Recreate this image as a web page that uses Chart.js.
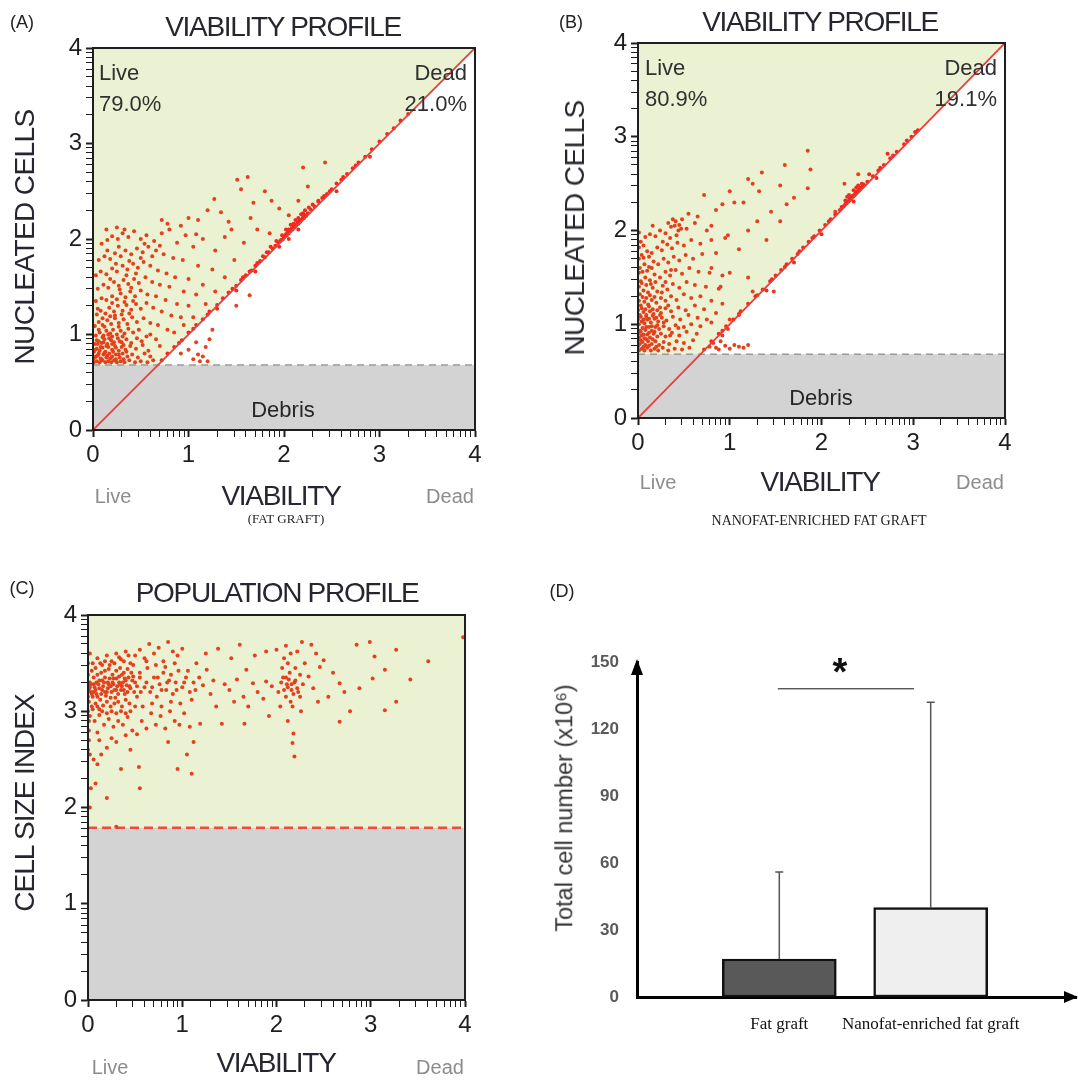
<!DOCTYPE html>
<html>
<head>
<meta charset="utf-8">
<script src="https://cdn.jsdelivr.net/npm/chart.js@4.4.1/dist/chart.umd.min.js"></script>
<style>
  body { margin: 0; width: 1078px; height: 1080px; position: relative; background: #fff; overflow: hidden; font-family: "Liberation Sans", Arial, sans-serif; }
  canvas { position: absolute; }
  .t { position: absolute; white-space: nowrap; line-height: 1; color: #262626; }
</style>
</head>
<body>
<canvas id="cA" width="540" height="540" style="left:0;top:0"></canvas>
<canvas id="cB" width="538" height="540" style="left:540px;top:0"></canvas>
<canvas id="cC" width="540" height="540" style="left:0;top:540px"></canvas>
<canvas id="cD" width="538" height="540" style="left:540px;top:540px"></canvas>
<script>
// ---------- data ----------
const flowTicks = [0, 1, 2, 3, 4];
const debrisGate = 0.68;      // nucleated-cells gate (A, B)
const sizeGate = 1.79;        // cell-size gate (C)

// (A) fat graft: nucleated cells vs viability
const cellsA = [
  [0.01,0.71],[0.04,0.72],[0.07,0.71],[0.1,0.73],[0.13,0.71],[0.16,0.72],[0.19,0.71],[0.22,0.73],[0.25,0.71],[0.29,0.72],[0.33,0.71],[0.38,0.73],[0.44,0.71],[0.5,0.72],[0.57,0.71],[0.63,0.73],
  [0.02,0.76],[0.05,0.78],[0.08,0.75],[0.11,0.79],[0.14,0.76],[0.17,0.8],[0.2,0.77],[0.24,0.79],[0.28,0.76],[0.31,0.8],[0.36,0.77],[0.41,0.79],[0.47,0.76],[0.54,0.8],[0.6,0.77],
  [0.01,0.82],[0.04,0.85],[0.07,0.83],[0.1,0.86],[0.13,0.82],[0.16,0.87],[0.2,0.84],[0.23,0.88],[0.27,0.83],[0.3,0.87],[0.34,0.84],[0.39,0.88],[0.45,0.85],[0.52,0.89],[0.58,0.83],
  [0.02,0.9],[0.06,0.93],[0.09,0.91],[0.12,0.95],[0.15,0.9],[0.19,0.94],[0.22,0.92],[0.26,0.96],[0.3,0.92],[0.35,0.95],[0.4,0.91],[0.46,0.96],[0.51,0.93],[0.56,0.98],
  [0.03,0.99],[0.07,1.02],[0.11,0.99],[0.14,1.04],[0.18,1.01],[0.21,1.05],[0.25,1.0],[0.29,1.04],[0.33,1.01],[0.37,1.06],[0.42,1.02],[0.48,1.05],[0.6,1.0],[0.66,0.95],[0.7,0.88],
  [0.0,0.74],[0.03,0.77],[0.06,0.8],[0.09,0.74],[0.12,0.81],[0.15,0.78],[0.18,0.75],[0.21,0.82],[0.24,0.74],[0.27,0.79],[0.32,0.74],[0.35,0.82],[0.02,0.84],[0.05,0.9],
  [0.08,0.87],[0.11,0.92],[0.14,0.88],[0.17,0.96],[0.2,0.9],[0.24,0.86],[0.28,0.93],[0.32,0.89],[0.04,0.94],[0.1,0.97],[0.16,1.0],[0.2,0.98],[0.27,1.08],[0.31,0.98],
  [0.02,1.09],[0.06,1.13],[0.1,1.1],[0.15,1.15],[0.19,1.11],[0.23,1.17],[0.27,1.12],[0.32,1.16],[0.36,1.11],[0.41,1.18],[0.46,1.13],[0.53,1.17],[0.6,1.12],[0.68,1.1],[0.78,1.05],[0.85,1.02],
  [0.06,1.05],[0.12,1.08],[0.23,1.2],[0.3,1.21],[0.38,1.22],[0.18,1.19],[0.1,1.17],[0.05,1.27],[0.2,1.33],[0.33,1.34],[0.42,1.35],[0.28,1.47],[0.4,1.49],[0.18,1.58],
  [0.04,1.21],[0.08,1.25],[0.13,1.22],[0.17,1.28],[0.22,1.24],[0.26,1.3],[0.31,1.25],[0.35,1.31],[0.4,1.26],[0.45,1.32],[0.5,1.27],[0.56,1.33],[0.63,1.28],[0.72,1.24],[0.82,1.2],[0.92,1.18],
  [0.03,1.35],[0.09,1.38],[0.14,1.36],[0.2,1.4],[0.25,1.37],[0.29,1.43],[0.34,1.39],[0.39,1.45],[0.44,1.4],[0.5,1.46],[0.57,1.42],[0.66,1.4],[0.76,1.36],[0.88,1.32],[1.0,1.3],
  [0.05,1.48],[0.11,1.52],[0.16,1.49],[0.22,1.55],[0.27,1.51],[0.32,1.57],[0.37,1.53],[0.43,1.58],[0.48,1.54],[0.55,1.6],[0.62,1.55],[0.7,1.52],[0.8,1.5],[0.95,1.45],[1.08,1.42],
  [0.03,1.62],[0.08,1.66],[0.14,1.63],[0.2,1.69],[0.25,1.66],[0.31,1.72],[0.36,1.68],[0.42,1.74],[0.47,1.7],[0.53,1.76],[0.6,1.72],[0.68,1.67],[0.77,1.64],[0.86,1.6],[1.0,1.58],[1.15,1.52],
  [0.35,1.62],[0.45,1.64],[0.24,1.74],[0.38,1.77],[0.5,1.8],[0.62,1.82],[0.15,1.88],[0.27,1.92],[0.54,1.95],[0.7,1.93],
  [0.06,1.78],[0.12,1.82],[0.18,1.79],[0.23,1.85],[0.29,1.82],[0.34,1.88],[0.4,1.84],[0.46,1.9],[0.52,1.86],[0.58,1.92],[0.66,1.88],[0.74,1.84],[0.84,1.8],[0.94,1.78],[1.1,1.72],[1.25,1.68],
  [0.09,1.95],[0.15,1.99],[0.2,2.03],[0.26,2.0],[0.31,2.06],[0.37,2.02],[0.43,2.08],[0.5,2.0],[0.56,2.04],[0.64,1.98],[0.72,2.06],[0.8,2.1],[0.88,1.96],[0.97,2.04],[1.05,1.92],[1.15,2.0],[1.28,1.88],
  [0.14,2.1],[0.25,2.12],[0.33,2.1],[0.72,2.2],[0.78,2.16],[0.92,2.14],[1.0,2.22],[1.1,2.2],[1.08,2.05],
  [1.27,2.42],[1.34,2.28],[1.51,2.62],[1.62,2.65],[1.55,2.52],[1.8,2.5],[1.87,2.4],[2.2,2.75],[2.43,2.8],[2.25,2.55],[2.15,2.4],[1.95,2.32],[1.65,2.22],[1.72,2.1],[1.45,2.1],[1.38,2.02],
  [1.58,1.96],[1.85,2.06],[1.2,2.3],[1.48,1.78],[1.38,1.6],[1.28,1.45],[1.18,1.32],[1.05,1.18],[0.95,1.1],[1.42,2.18],[1.68,2.38],[2.05,2.25],
  [1.05,0.74],[1.1,0.79],[1.12,0.72],[1.18,0.87],[1.22,0.95],[1.25,1.05],[1.08,0.92],[1.0,0.84],[0.92,0.8],[1.15,0.77],[1.2,0.72],[1.64,1.41],[1.5,1.3]
];
const deadA = [
  [0.72,0.73],[0.78,0.8],[0.85,0.87],[0.93,0.94],[1.0,1.02],[1.08,1.1],[1.15,1.16],[1.22,1.24],[1.3,1.31],[1.36,1.38],[1.42,1.44],[1.5,1.51],[1.55,1.57],[1.6,1.62],
  [1.66,1.67],[1.7,1.72],[1.75,1.77],[1.8,1.81],[1.84,1.86],[1.88,1.9],[1.91,1.93],[1.94,1.96],[1.97,1.99],[2.0,2.02],[2.02,2.05],[2.04,2.07],[2.06,2.08],[2.08,2.11],
  [2.1,2.13],[2.12,2.14],[2.14,2.17],[2.16,2.19],[2.18,2.2],[2.2,2.23],[2.22,2.25],[2.25,2.27],[2.28,2.31],[2.32,2.34],[2.36,2.39],[2.4,2.43],[2.45,2.47],[2.5,2.52],
  [2.55,2.58],[2.6,2.62],[2.66,2.68],[2.72,2.74],[2.78,2.8],[2.85,2.86],[2.92,2.94],[3.0,3.02],[3.08,3.1],[3.15,3.16],[3.22,3.24],[3.3,3.31],
  [1.95,1.92],[2.05,2.0],[1.5,1.46],[1.7,1.66],[2.55,2.5],[2.9,2.86],[1.3,1.27],[2.02,2.1],[2.12,2.2],[2.15,2.1],[2.07,2.15],[2.18,2.26],
  [1.96,1.98],[1.99,2.0],[2.01,2.03],[2.03,2.04],[2.05,2.06],[2.07,2.09],[2.09,2.1],[2.11,2.12],[2.13,2.15],[2.15,2.16],[2.17,2.18],[2.19,2.21],[2.21,2.22],[2.23,2.24],
  [2.05,2.1],[2.1,2.16],[2.15,2.22],[2.2,2.27],[1.98,2.04],[1.92,1.98],[2.22,2.3],[2.26,2.33],[2.3,2.36],[1.86,1.92],[1.82,1.86],[1.78,1.82],[1.72,1.75],[1.64,1.66],
  [1.57,1.6],[1.46,1.48],[1.2,1.21],[1.05,1.06],[0.9,0.91],[2.48,2.5],[2.62,2.65],[2.75,2.77],[2.42,2.45],[2.36,2.4]
];

// (B) nanofat-enriched fat graft
const cellsB = [
  [0.01,0.72],[0.04,0.74],[0.07,0.72],[0.1,0.75],[0.14,0.72],[0.18,0.74],[0.22,0.72],[0.27,0.75],[0.33,0.72],[0.4,0.74],[0.48,0.73],[0.56,0.75],
  [0.02,0.79],[0.05,0.81],[0.08,0.78],[0.11,0.82],[0.15,0.79],[0.19,0.82],[0.23,0.78],[0.28,0.81],[0.34,0.79],[0.42,0.82],[0.5,0.8],[0.6,0.83],
  [0.01,0.86],[0.04,0.88],[0.07,0.85],[0.1,0.89],[0.13,0.86],[0.17,0.9],[0.21,0.87],[0.25,0.9],[0.3,0.87],[0.37,0.91],[0.45,0.88],[0.53,0.92],[0.64,0.9],
  [0.02,0.93],[0.05,0.96],[0.08,0.94],[0.12,0.97],[0.15,0.93],[0.19,0.97],[0.23,0.95],[0.28,0.98],[0.34,0.95],[0.41,0.99],[0.5,0.97],[0.58,1.0],[0.68,0.98],[0.8,1.02],
  [0.01,1.0],[0.04,1.03],[0.07,1.01],[0.1,1.05],[0.14,1.02],[0.18,1.06],[0.22,1.03],[0.26,1.07],[0.31,1.04],[0.38,1.08],[0.46,1.05],[0.55,1.1],[0.65,1.07],[0.75,1.05],
  [0.0,0.76],[0.03,0.83],[0.06,0.76],[0.09,0.84],[0.12,0.77],[0.16,0.84],[0.2,0.76],[0.0,0.9],[0.03,0.92],[0.06,0.89],[0.09,0.97],[0.12,0.91],[0.15,0.98],[0.18,0.92],
  [0.21,0.99],[0.0,1.05],[0.03,1.08],[0.06,1.05],[0.09,1.08],[0.12,1.06],[0.16,1.09],[0.2,1.07],[0.24,1.1],[0.0,1.15],[0.04,1.17],[0.08,1.16],[0.12,1.19],[0.16,1.16],
  [0.02,1.1],[0.06,1.13],[0.09,1.1],[0.13,1.14],[0.17,1.11],[0.21,1.15],[0.25,1.12],[0.3,1.17],[0.36,1.14],[0.44,1.18],[0.52,1.15],[0.62,1.2],[0.72,1.16],[0.85,1.12],
  [0.03,1.2],[0.07,1.24],[0.11,1.21],[0.15,1.26],[0.2,1.23],[0.25,1.28],[0.3,1.25],[0.36,1.3],[0.42,1.26],[0.5,1.32],[0.58,1.28],[0.68,1.3],[0.8,1.25],[0.92,1.22],
  [0.01,1.25],[0.05,1.29],[0.09,1.28],[0.13,1.31],[0.18,1.29],[0.01,1.4],[0.04,1.44],[0.09,1.42],[0.14,1.43],[0.19,1.45],[0.01,1.55],[0.05,1.56],[0.1,1.57],[0.15,1.6],
  [0.02,1.32],[0.06,1.36],[0.11,1.34],[0.16,1.39],[0.21,1.35],[0.27,1.41],[0.32,1.37],[0.38,1.43],[0.45,1.39],[0.53,1.45],[0.62,1.42],[0.74,1.4],[0.88,1.38],
  [0.03,1.46],[0.08,1.5],[0.13,1.47],[0.18,1.53],[0.24,1.5],[0.3,1.56],[0.35,1.52],[0.41,1.58],[0.48,1.54],[0.56,1.6],[0.66,1.56],[0.78,1.55],[0.92,1.52],[1.0,1.55],
  [0.02,1.6],[0.07,1.64],[0.12,1.61],[0.17,1.67],[0.22,1.64],[0.28,1.7],[0.33,1.66],[0.39,1.72],[0.45,1.68],[0.52,1.74],[0.6,1.7],[0.7,1.75],[0.85,1.76],
  [0.01,1.7],[0.06,1.71],[0.12,1.72],[0.01,1.82],[0.06,1.84],[0.35,1.92],[0.42,1.95],[0.4,2.05],[0.47,2.02],[0.33,2.08],[0.27,1.88],[0.36,1.58],[0.3,1.45],[0.26,1.34],
  [0.24,1.18],[0.33,1.2],[0.28,1.02],[0.35,0.88],[0.44,0.96],
  [0.04,1.74],[0.1,1.78],[0.15,1.76],[0.21,1.82],[0.26,1.79],[0.32,1.85],[0.37,1.81],[0.43,1.87],[0.5,1.84],[0.58,1.9],[0.68,1.86],[0.8,1.9],[0.95,1.92],
  [0.03,1.88],[0.08,1.93],[0.13,1.96],[0.19,1.94],[0.24,2.0],[0.3,1.97],[0.36,2.04],[0.41,2.1],[0.45,2.06],[0.48,2.12],[0.38,2.12],[0.44,2.0],[0.53,2.02],[0.62,2.08],[0.01,1.98],[0.16,2.05],
  [0.72,2.38],[0.85,2.22],[0.92,2.28],[1.0,2.42],[1.05,2.3],[1.15,2.3],[1.2,2.55],[1.25,2.5],[1.35,2.62],[1.55,2.48],[1.6,2.7],[1.7,2.35],[1.85,2.45],[1.85,2.85],[1.88,2.65],
  [2.25,2.5],[2.4,2.6],[1.45,2.2],[1.55,2.1],[1.3,2.1],[1.2,2.0],[0.98,1.95],[1.1,1.8],[1.2,1.5],[1.25,1.35],[1.1,1.1],[1.0,1.05],[0.9,1.4],[0.8,1.6],[0.75,2.0],
  [0.65,2.15],[0.55,2.18],[0.8,2.05],[1.4,1.9],[1.62,2.28],[2.15,2.2],[1.32,2.42],
  [0.82,0.8],[0.85,0.75],[0.9,0.82],[0.95,0.77],[1.0,0.74],[1.05,0.78],[1.1,0.76],[1.15,0.75],[1.2,0.78],[0.88,0.73],[1.48,1.35],[0.92,0.88],[0.98,0.95],[0.78,0.76]
];
const deadB = [
  [0.72,0.73],[0.8,0.82],[0.88,0.9],[0.96,0.98],[1.04,1.05],[1.12,1.14],[1.2,1.22],[1.28,1.3],[1.36,1.37],[1.44,1.46],[1.5,1.52],[1.56,1.58],[1.62,1.64],[1.68,1.7],
  [1.74,1.75],[1.8,1.82],[1.86,1.88],[1.92,1.94],[1.98,2.0],[2.04,2.06],[2.1,2.12],[2.15,2.17],[2.2,2.22],[2.24,2.26],[2.27,2.3],[2.3,2.32],[2.32,2.35],[2.34,2.37],
  [2.36,2.38],[2.38,2.41],[2.4,2.42],[2.42,2.45],[2.45,2.47],[2.5,2.52],[2.56,2.58],[2.62,2.64],[2.68,2.7],[2.75,2.77],[2.82,2.84],[2.9,2.92],[2.98,3.0],[3.05,3.07],
  [1.7,1.66],[2.0,1.96],[2.35,2.31],[2.6,2.56],[1.4,1.36],[2.28,2.36],[2.4,2.48],[2.72,2.82],[2.52,2.6],
  [2.22,2.25],[2.26,2.28],[2.29,2.31],[2.31,2.34],[2.33,2.36],[2.35,2.37],[2.37,2.4],[2.39,2.42],[2.41,2.43],[2.43,2.46],[2.3,2.38],[2.35,2.43],[2.38,2.46],[2.44,2.5],
  [2.26,2.32],[2.46,2.49],[1.9,1.92],[1.76,1.78],[1.6,1.61],[1.46,1.48],[1.3,1.31],[1.1,1.11],[0.92,0.93],[2.08,2.1],[2.64,2.67],[2.78,2.8],[2.93,2.96],[3.02,3.05]
];

// (C) population profile: cell size index vs viability
const cellsC = [
  [0.01,3.1],[0.03,3.2],[0.05,3.15],[0.07,3.25],[0.09,3.18],[0.11,3.28],[0.13,3.12],[0.15,3.22],[0.17,3.3],[0.19,3.16],[0.21,3.24],[0.23,3.34],[0.25,3.2],[0.27,3.28],[0.29,3.14],
  [0.31,3.26],[0.33,3.36],[0.35,3.22],[0.37,3.3],[0.39,3.18],[0.41,3.27],[0.43,3.35],[0.45,3.24],[0.47,3.32],[0.49,3.2],
  [0.02,3.3],[0.04,3.05],[0.06,3.35],[0.08,3.08],[0.1,3.38],[0.12,3.02],[0.14,3.4],[0.16,3.06],[0.18,3.42],[0.2,3.1],[0.22,3.44],[0.24,3.05],[0.26,3.38],[0.28,3.08],[0.3,3.42],
  [0.32,3.1],[0.34,3.45],[0.36,3.05],[0.38,3.4],[0.4,3.12],[0.42,3.44],[0.44,3.08],[0.46,3.4],[0.5,3.3],[0.52,3.15],[0.55,3.35],
  [0.01,3.22],[0.03,3.28],[0.06,3.2],[0.09,3.3],[0.12,3.24],[0.15,3.32],[0.18,3.2],[0.21,3.3],[0.24,3.26],[0.27,3.34],[0.3,3.22],[0.33,3.3],[0.36,3.26],[0.39,3.34],[0.42,3.2],
  [0.0,3.15],[0.02,3.25],[0.04,3.18],[0.06,3.28],[0.08,3.22],[0.1,3.15],[0.12,3.32],[0.14,3.18],[0.16,3.26],[0.18,3.35],[0.2,3.2],[0.22,3.28],[0.24,3.14],[0.26,3.3],
  [0.28,3.22],[0.3,3.34],[0.32,3.18],[0.34,3.28],[0.36,3.38],[0.38,3.22],[0.4,3.32],[0.44,3.26],[0.48,3.36],[0.52,3.26],[0.56,3.2],[0.0,3.38],[0.04,3.42],[0.08,3.45],
  [0.13,3.5],[0.18,3.52],[0.23,3.48],[0.28,3.5],[0.33,3.56],[0.38,3.52],[0.43,3.58],[0.48,3.48],[0.0,3.0],[0.05,3.02],[0.1,3.05],[0.15,3.0],[0.2,2.98],[0.25,3.0],
  [0.3,2.98],[0.35,3.0],[0.4,2.98],[0.45,3.0],[0.5,3.05],[0.62,3.3],[0.68,3.25],[0.74,3.35],[0.78,3.22],[0.84,3.3],[0.88,3.38],[0.94,3.22],[1.02,3.3],[1.06,3.42],
  [1.14,3.22],[1.18,3.35],[0.01,2.9],[0.01,2.8],[0.01,2.7],[0.0,2.6],[0.02,2.55],[0.0,3.5],[0.02,3.6],
  [0.05,3.5],[0.1,3.55],[0.15,3.48],[0.2,3.58],[0.25,3.52],[0.3,3.6],[0.35,3.54],[0.4,3.62],[0.45,3.5],[0.5,3.58],[0.55,3.64],[0.6,3.55],[0.65,3.7],[0.7,3.6],[0.75,3.66],
  [0.8,3.52],[0.85,3.72],[0.9,3.62],[0.95,3.58],[1.0,3.65],
  [0.02,2.95],[0.07,2.9],[0.12,2.96],[0.17,2.86],[0.22,2.92],[0.27,2.84],[0.32,2.9],[0.37,2.86],[0.42,2.94],[0.47,2.8],[0.52,2.76],[0.57,2.9],[0.62,2.82],[0.67,2.98],[0.72,2.86],
  [0.77,2.95],[0.82,2.82],[0.87,3.0],[0.92,2.9],[0.97,2.86],[1.02,2.98],[1.08,2.84],
  [0.55,3.4],[0.6,3.25],[0.63,3.45],[0.66,3.2],[0.7,3.35],[0.73,3.15],[0.76,3.28],[0.8,3.4],[0.83,3.22],[0.86,3.32],[0.9,3.18],[0.93,3.3],[0.96,3.42],[1.0,3.25],[1.04,3.35],
  [1.08,3.2],[1.12,3.3],[0.58,3.05],[0.68,3.08],[0.78,3.05],[0.88,3.1],[0.98,3.08],[0.62,3.52],[0.72,3.48],[0.82,3.46],[0.92,3.5],
  [0.03,2.2],[0.08,2.25],[0.2,2.1],[0.06,2.5],[0.1,2.45],[0.14,2.55],[0.35,2.4],[0.55,2.2],[0.54,2.42],[0.95,2.4],[1.1,2.35],[1.05,2.55],[0.45,2.6],[0.3,2.68],[0.2,2.62],
  [0.25,2.72],[0.12,2.7],[0.4,2.75],[0.3,1.8],[0.02,2.0],[0.1,2.78],[1.12,2.68],[0.85,2.68],
  [1.38,3.65],[1.61,3.69],[1.52,3.55],[1.77,3.58],[1.89,3.62],[2.0,3.64],[1.68,3.43],[1.58,3.33],[1.75,3.29],[1.89,3.31],[1.5,3.22],[1.65,3.15],[1.86,3.13],[1.66,2.87],[1.36,3.05],
  [1.19,2.87],[1.22,3.27],[1.1,3.12],[1.33,3.32],[1.42,2.87],[1.26,3.43],[1.45,3.28],[1.3,3.18],[1.55,3.1],[1.8,3.2],[1.95,3.26],[1.7,3.05],[1.92,2.95],[1.15,3.5],[1.25,3.6],
  [2.05,3.3],[2.08,3.22],[2.1,3.35],[2.12,3.25],[2.14,3.4],[2.16,3.28],[2.18,3.18],[2.2,3.32],[2.22,3.24],[2.1,3.15],[2.15,3.1],[2.06,3.45],[2.12,3.5],[2.2,3.45],[2.25,3.38],
  [2.28,3.28],[2.02,3.2],[2.25,3.15],[2.17,3.05],[2.08,3.55],[2.15,3.6],[2.22,3.62],[2.3,3.5],[2.04,3.05],[2.26,3.0],[2.19,2.53],[2.17,2.67],[2.18,2.77],[2.12,2.9],[2.1,3.68],
  [2.13,3.33],[2.11,3.28],[2.16,3.22],[2.19,3.3],[2.07,3.35],[2.23,3.2],
  [2.27,3.72],[2.37,3.69],[2.34,3.36],[2.39,3.24],[2.44,3.1],[2.46,3.46],[2.5,3.53],[2.55,3.15],[2.67,3.29],[2.67,2.89],[2.78,3.0],[2.85,3.69],[2.88,3.24],[2.99,3.72],[3.02,3.34],
  [3.04,3.57],[3.15,3.43],[3.15,3.01],[3.27,3.64],[3.27,3.1],[3.42,3.33],[3.61,3.52],[3.98,3.77],[2.6,3.4],[2.72,3.2],[2.42,3.6]
];

// (D) total cell number (x10^6), mean and SD
const groups = ["Fat graft", "Nanofat-enriched fat graft"];
const cellMeans = [17, 40];
const cellSD = [39, 92];
const countTicks = [0, 30, 60, 90, 120, 150];
const sigLine = [0.99, 1.89, 138];   // from x, to x, at y

// ---------- styling ----------
const GREEN = "#ebf1d3", GREY = "#d3d3d3", DOT = "#e5401e", LINE = "#ee3b35";
const SANS = "Liberation Sans";

function put(text, x, y, css) {
  const d = document.createElement("div");
  d.className = "t";
  d.textContent = text;
  d.style.cssText = "left:" + x + "px;top:" + y + "px;transform:translate(-50%,-50%);" + (css || "");
  document.body.appendChild(d);
  return d;
}

// decade-style minor ticks on the flow axes
const decade = [];
flowTicks.forEach(t => {
  decade.push(t);
  if (t < 4) for (let k = 2; k <= 9; k++) decade.push(t + Math.log10(k));
});

const flowBackground = {
  id: "flowBackground",
  beforeDatasetsDraw(chart, args, opts) {
    const { ctx, chartArea: a, scales: { x, y } } = chart;
    const gy = y.getPixelForValue(opts.gate);
    ctx.save();
    ctx.fillStyle = "#fff";
    ctx.fillRect(a.left, a.top, a.width, a.height);
    ctx.fillStyle = GREEN;
    if (opts.diagonal) {
      ctx.beginPath();
      ctx.moveTo(x.getPixelForValue(0), gy);
      ctx.lineTo(x.getPixelForValue(0), y.getPixelForValue(4));
      ctx.lineTo(x.getPixelForValue(4), y.getPixelForValue(4));
      ctx.lineTo(x.getPixelForValue(opts.gate), gy);
      ctx.closePath();
      ctx.fill();
    } else {
      ctx.fillRect(a.left, a.top, a.width, gy - a.top);
    }
    ctx.fillStyle = GREY;
    ctx.fillRect(a.left, gy, a.width, a.bottom - gy);
    ctx.strokeStyle = opts.gateColor;
    ctx.lineWidth = opts.gateWidth;
    ctx.setLineDash(opts.dash);
    ctx.beginPath();
    ctx.moveTo(a.left, gy);
    ctx.lineTo(a.right, gy);
    ctx.stroke();
    ctx.restore();
  },
  afterDraw(chart) {
    const { ctx, chartArea: a } = chart;
    ctx.save();
    ctx.strokeStyle = "#1e1e1e";
    ctx.lineWidth = 2;
    ctx.strokeRect(a.left, a.top, a.width, a.height);
    ctx.restore();
  }
};

function flowAxis(fit) {
  return {
    type: "linear", min: 0, max: 4,
    afterBuildTicks: s => { s.ticks = decade.map(v => ({ value: v })); },
    afterFit: fit,
    ticks: {
      autoSkip: false, maxRotation: 0, padding: 4,
      callback: v => (Number.isInteger(v) ? String(v) : ""),
      font: { family: SANS, size: 24 }, color: "#1e1e1e"
    },
    grid: {
      drawOnChartArea: false, drawTicks: true, tickLength: 7, color: "#1e1e1e",
      tickWidth: c => (c.tick && Number.isInteger(c.tick.value) ? 2 : 1)
    },
    border: { display: true, color: "#1e1e1e", width: 2 }
  };
}

function flowChart(id, cells, dead, pad, gateOpts) {
  const datasets = [];
  if (gateOpts.diagonal) {
    datasets.push({ data: [{ x: 0, y: 0 }, { x: 4, y: 4 }], showLine: true, borderColor: LINE, borderWidth: 1.8, pointRadius: 0, order: 0 });
  }
  datasets.push({ data: cells.map(p => ({ x: p[0], y: p[1] })), pointRadius: 2, pointBorderWidth: 0, pointBackgroundColor: DOT, order: 2 });
  if (dead) datasets.push({ data: dead.map(p => ({ x: p[0], y: p[1] })), pointRadius: 2, pointBorderWidth: 0, pointBackgroundColor: "#f02a22", order: 1 });
  return new Chart(document.getElementById(id), {
    type: "scatter",
    data: { datasets },
    options: {
      responsive: false, animation: false, devicePixelRatio: 1,
      layout: { padding: pad },
      plugins: { legend: { display: false }, tooltip: { enabled: false }, flowBackground: gateOpts },
      scales: {
        x: flowAxis(s => { s.height = 40; }),
        y: flowAxis(s => { s.width = 80; })
      }
    },
    plugins: [flowBackground]
  });
}

const gateAB = { gate: debrisGate, diagonal: true, gateColor: "#9a9a9a", gateWidth: 1.6, dash: [7, 5] };
flowChart("cA", cellsA, deadA, { left: 13, right: 65, top: 48, bottom: 70 }, gateAB);
flowChart("cB", cellsB, deadB, { left: 18, right: 73, top: 43, bottom: 82 }, gateAB);
flowChart("cC", cellsC, null, { left: 8, right: 75, top: 75, bottom: 40 },
  { gate: sizeGate, diagonal: false, gateColor: "#ee4a40", gateWidth: 2.4, dash: [9, 5] });

// ---------- (D) bar chart ----------
const barDecor = {
  id: "barDecor",
  afterDatasetsDraw(chart) {
    const { ctx, scales: { x, y } } = chart;
    const meta = chart.getDatasetMeta(0);
    ctx.save();
    ctx.strokeStyle = "#555";
    ctx.lineWidth = 1.5;
    meta.data.forEach((bar, i) => {
      const top = y.getPixelForValue(cellMeans[i] + cellSD[i]);
      ctx.beginPath();
      ctx.moveTo(bar.x, bar.y);
      ctx.lineTo(bar.x, top);
      ctx.moveTo(bar.x - 4, top);
      ctx.lineTo(bar.x + 4, top);
      ctx.stroke();
    });
    ctx.strokeStyle = "#111";
    ctx.lineWidth = 1;
    const sy = y.getPixelForValue(sigLine[2]);
    ctx.beginPath();
    ctx.moveTo(x.getPixelForValue(sigLine[0]), sy);
    ctx.lineTo(x.getPixelForValue(sigLine[1]), sy);
    ctx.stroke();
    ctx.restore();
  },
  afterDraw(chart) {
    const { ctx, chartArea: a } = chart;
    ctx.save();
    ctx.fillStyle = "#000";
    ctx.beginPath();
    ctx.moveTo(a.left, a.top - 3);
    ctx.lineTo(a.left - 6, a.top + 13);
    ctx.lineTo(a.left + 6, a.top + 13);
    ctx.closePath();
    ctx.fill();
    ctx.beginPath();
    ctx.moveTo(a.right + 2, a.bottom);
    ctx.lineTo(a.right - 12, a.bottom - 6);
    ctx.lineTo(a.right - 12, a.bottom + 6);
    ctx.closePath();
    ctx.fill();
    ctx.restore();
  }
};

new Chart(document.getElementById("cD"), {
  type: "bar",
  data: {
    datasets: [{
      data: cellMeans.map((v, i) => ({ x: i + 1, y: v })),
      backgroundColor: ["#595959", "#efefef"],
      borderColor: "#111", borderWidth: 2.5, borderSkipped: false, barThickness: 114
    }]
  },
  options: {
    responsive: false, animation: false, devicePixelRatio: 1,
    layout: { padding: { left: 0, right: 2, top: 122, bottom: 43 } },
    plugins: { legend: { display: false }, tooltip: { enabled: false } },
    scales: {
      x: {
        type: "linear", min: 0.06, max: 2.96, offset: false,
        afterBuildTicks: s => { s.ticks = groups.map((g, i) => ({ value: i + 1 })); },
        afterFit: s => { s.height = 40; },
        ticks: { autoSkip: false, maxRotation: 0, padding: 17, callback: v => groups[v - 1],
          font: { family: "Liberation Serif", size: 17 }, color: "#111" },
        grid: { display: false, drawTicks: false },
        border: { display: true, color: "#000", width: 3 }
      },
      y: {
        min: 0, max: 150,
        afterBuildTicks: s => { s.ticks = countTicks.map(v => ({ value: v })); },
        afterFit: s => { s.width = 97; },
        ticks: { padding: 18, font: { family: SANS, size: 17, weight: "bold" }, color: "#5a5a5a" },
        grid: { display: false, drawTicks: false },
        border: { display: true, color: "#000", width: 3 }
      }
    }
  },
  plugins: [barDecor]
});

// ---------- text ----------
const big = "font-size:28px;letter-spacing:-1.3px;color:#262630;";
put("(A)", 22, 22, "font-size:18px;color:#222");
put("(B)", 571, 22, "font-size:18px;color:#222");
put("(C)", 22, 588, "font-size:18px;color:#222");
put("(D)", 562, 591, "font-size:18px;color:#222");

put("VIABILITY PROFILE", 283, 27, big);
put("NUCLEATED CELLS", 25, 237, big + "letter-spacing:-0.6px;transform:translate(-50%,-50%) rotate(-90deg)");
put("Live", 113, 496, "font-size:20px;color:#8c8c8c");
put("VIABILITY", 281, 496, big);
put("Dead", 450, 496, "font-size:20px;color:#8c8c8c");
put("(FAT GRAFT)", 286, 518, "font-family:'Liberation Serif';font-size:13px;color:#222");
put("Live", 99, 62, "font-size:22px;color:#303030;transform:none");
put("79.0%", 99, 93, "font-size:22px;color:#303030;transform:none");
put("Dead", 467, 62, "font-size:22px;color:#303030;transform:translate(-100%,0)");
put("21.0%", 467, 93, "font-size:22px;color:#303030;transform:translate(-100%,0)");
put("Debris", 283, 410, "font-size:22px;color:#262626");

put("VIABILITY PROFILE", 820, 22, big);
put("NUCLEATED CELLS", 575, 228, big + "letter-spacing:-0.6px;transform:translate(-50%,-50%) rotate(-90deg)");
put("Live", 658, 482, "font-size:20px;color:#8c8c8c");
put("VIABILITY", 820, 482, big);
put("Dead", 980, 482, "font-size:20px;color:#8c8c8c");
put("NANOFAT-ENRICHED FAT GRAFT", 819, 521, "font-family:'Liberation Serif';font-size:14px;color:#222");
put("Live", 645, 57, "font-size:22px;color:#303030;transform:none");
put("80.9%", 645, 88, "font-size:22px;color:#303030;transform:none");
put("Dead", 997, 57, "font-size:22px;color:#303030;transform:translate(-100%,0)");
put("19.1%", 997, 88, "font-size:22px;color:#303030;transform:translate(-100%,0)");
put("Debris", 821, 398, "font-size:22px;color:#262626");

put("POPULATION PROFILE", 277, 593, big);
put("CELL SIZE INDEX", 25, 803, big + "letter-spacing:-1px;transform:translate(-50%,-50%) rotate(-90deg)");
put("Live", 110, 1067, "font-size:20px;color:#8c8c8c");
put("VIABILITY", 276, 1063, big);
put("Dead", 440, 1067, "font-size:20px;color:#8c8c8c");

put("Total cell number (x10\u2076)", 565, 808, "font-size:23.5px;color:#333;transform:translate(-50%,-50%) rotate(-90deg)");
put("*", 840, 672, "font-size:38px;font-weight:bold;color:#111");
</script>
</body>
</html>
